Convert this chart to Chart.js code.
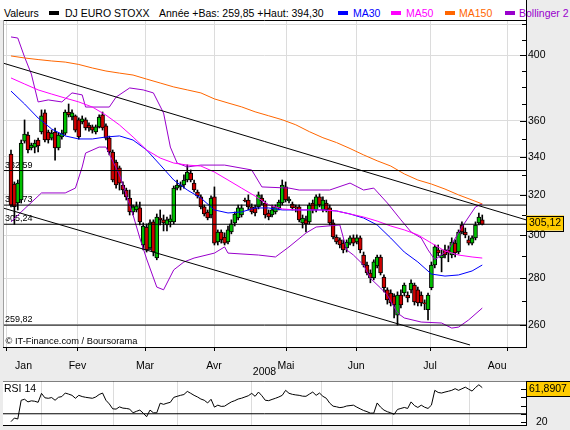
<!DOCTYPE html>
<html>
<head>
<meta charset="utf-8">
<script src="https://cdn.jsdelivr.net/npm/chart.js@4"></script>
<style>
  body { margin: 0; width: 570px; height: 430px; overflow: hidden; position: relative; background: #ececec; font-family: "Liberation Sans", Arial, sans-serif; }
  #legend { position: absolute; left: 0; top: 0; width: 526px; height: 20px; background: #fff; }
  #legend span { position: absolute; top: 7px; font-size: 10.5px; line-height: 12px; white-space: nowrap; color: #000; }
  #legend i { position: absolute; top: 11px; width: 10px; height: 4px; }
  canvas { position: absolute; left: 0; }
</style>
</head>
<body>
<div id="legend">
  <span style="left:4px">Valeurs</span>
  <i style="left:49px;background:#000"></i><span style="left:65px">DJ EURO STOXX</span>
  <span style="left:159px">Année +Bas: 259,85 +Haut: 394,30</span>
  <i style="left:338px;background:#0000ff"></i><span style="left:353px;color:#0000ff">MA30</span>
  <i style="left:391px;background:#ff00ff"></i><span style="left:406px;color:#ff00ff">MA50</span>
  <i style="left:445px;background:#ff6600"></i><span style="left:459px;color:#ff6600">MA150</span>
  <i style="left:505px;background:#9900cc"></i><span style="left:519px;color:#9900cc">Bollinger 2</span>
</div>
<canvas id="mainChart" width="570" height="380" style="top:0"></canvas>
<canvas id="rsiChart" width="570" height="50" style="top:380px"></canvas>
<script>
// Daily candles, one per trading day starting 21 Jan 2008
const opens = [
  341.5, 325.5, 315.8, 317.3, 348.6, 352.0, 344.8, 345.3, 349.2, 353.7,
  364.7, 353.7, 350.3, 353.7, 344.8, 350.9, 353.1, 365.2, 362.3, 362.9,
  360.6, 359.4, 360.6, 357.7, 356.6, 353.7, 356.6, 363.5, 357.2, 350.3,
  342.6, 337.1, 334.0, 325.0, 322.4, 318.3, 311.3, 312.3, 313.3, 295.3,
  303.9, 293.9, 306.4, 289.3, 308.3, 307.4, 304.9, 306.4, 306.4, 323.4,
  324.0, 325.0, 327.6, 331.3, 326.0, 321.4, 318.9, 313.8, 311.3, 309.8,
  318.9, 296.7, 301.5, 299.1, 296.7, 301.5, 305.9, 308.3, 309.8, 317.3,
  317.3, 313.8, 313.3, 313.8, 318.3, 315.8, 310.8, 309.8, 311.3, 313.3,
  315.8, 324.0, 316.8, 315.3, 313.8, 313.8, 305.9, 307.4, 306.4, 315.8,
  312.3, 318.9, 312.3, 315.8, 313.3, 305.9, 299.1, 297.7, 296.2, 293.9,
  296.2, 298.7, 296.7, 298.7, 290.6, 286.0, 282.4, 280.2, 285.6, 289.7,
  280.6, 274.9, 273.5, 272.2, 264.0, 272.6, 273.5, 272.6, 274.9, 277.0,
  274.9, 272.6, 269.2, 266.3, 275.8, 286.0, 293.0, 289.3, 293.0, 293.0,
  290.6, 296.2, 292.0, 304.9, 301.5, 297.7, 296.2, 298.7, 305.9, 307.4
];
const highs = [
  343.7, 326.6, 327.6, 349.2, 360.6, 353.7, 347.5, 349.2, 350.3, 366.4,
  366.4, 354.8, 354.8, 356.0, 353.1, 354.8, 366.4, 369.9, 366.4, 363.5,
  361.8, 362.9, 361.8, 358.9, 357.7, 357.7, 363.5, 365.2, 358.3, 351.4,
  343.7, 338.2, 335.0, 326.6, 323.4, 322.4, 314.8, 316.3, 316.3, 305.9,
  305.4, 307.4, 307.4, 310.3, 312.3, 309.8, 308.8, 309.8, 324.5, 327.6,
  326.6, 330.3, 335.6, 332.9, 327.6, 322.4, 319.9, 314.8, 312.3, 319.4,
  324.0, 302.5, 302.5, 301.1, 304.4, 307.4, 311.3, 314.8, 314.8, 318.3,
  319.9, 315.3, 314.8, 321.4, 319.9, 316.8, 312.3, 314.8, 314.8, 317.3,
  327.6, 326.6, 318.9, 316.3, 314.8, 314.8, 309.8, 309.3, 315.8, 317.3,
  319.9, 320.4, 318.9, 317.3, 314.8, 307.4, 300.1, 298.7, 297.7, 297.7,
  299.6, 300.1, 300.1, 299.6, 292.0, 287.4, 283.8, 288.4, 290.6, 290.6,
  281.5, 275.8, 274.9, 273.1, 274.0, 274.9, 277.9, 274.0, 279.3, 277.9,
  276.1, 274.0, 270.5, 273.5, 287.4, 295.3, 295.3, 293.0, 295.3, 294.9,
  298.7, 297.7, 302.5, 306.4, 303.4, 299.6, 299.6, 306.4, 310.8, 309.8
];
const lows = [
  313.8, 305.2, 312.3, 315.8, 347.5, 342.1, 343.7, 342.1, 342.6, 352.6,
  348.1, 347.5, 349.2, 338.2, 343.7, 349.7, 352.0, 362.3, 360.6, 353.7,
  349.7, 358.3, 354.8, 354.2, 353.1, 352.6, 356.0, 354.8, 349.2, 341.0,
  326.6, 323.4, 322.4, 320.4, 317.3, 309.8, 309.8, 311.3, 304.9, 293.0,
  292.0, 293.0, 290.2, 288.4, 304.9, 302.0, 302.0, 303.9, 305.4, 322.4,
  322.4, 323.4, 326.6, 326.6, 321.4, 318.3, 312.8, 309.3, 307.4, 308.3,
  295.3, 295.3, 296.2, 295.3, 295.8, 300.6, 304.4, 307.4, 308.8, 316.3,
  312.3, 310.3, 309.3, 312.8, 314.8, 308.3, 307.4, 308.8, 310.3, 312.3,
  314.8, 316.3, 315.8, 312.3, 311.3, 306.4, 303.4, 301.5, 305.4, 310.8,
  311.3, 313.8, 311.3, 311.3, 304.9, 298.2, 295.8, 293.9, 291.6, 292.0,
  295.3, 294.9, 295.8, 291.6, 285.1, 281.5, 278.0, 279.3, 284.7, 281.5,
  274.0, 268.7, 267.9, 262.8, 259.85, 267.1, 272.2, 269.6, 273.5, 268.3,
  267.9, 267.9, 266.3, 262.0, 274.9, 284.7, 290.2, 282.9, 289.3, 287.5,
  289.3, 289.7, 291.1, 300.6, 298.7, 295.3, 295.3, 297.7, 304.9, 304.9
];
const closes = [
  314.7, 314.0, 326.0, 347.5, 352.6, 343.7, 346.4, 347.5, 345.9, 362.9,
  349.2, 349.2, 353.1, 344.8, 352.0, 353.1, 365.2, 363.5, 364.7, 354.8,
  350.9, 361.2, 356.0, 356.0, 354.8, 356.6, 362.3, 356.0, 350.3, 342.6,
  327.6, 325.0, 326.0, 322.4, 318.9, 311.3, 313.8, 314.3, 306.4, 304.4,
  293.0, 305.9, 292.0, 308.8, 307.4, 305.9, 307.4, 307.9, 323.4, 325.0,
  325.0, 327.6, 331.8, 327.6, 322.4, 319.4, 313.8, 310.3, 308.3, 318.3,
  296.2, 301.5, 297.7, 296.2, 302.5, 305.4, 310.3, 313.3, 313.3, 316.8,
  313.8, 311.3, 310.8, 319.9, 316.8, 309.8, 308.8, 312.3, 313.8, 316.3,
  325.0, 317.3, 317.8, 313.3, 313.3, 307.4, 308.3, 305.4, 314.8, 312.3,
  318.9, 314.8, 317.3, 312.3, 305.9, 299.1, 296.7, 295.3, 293.0, 296.7,
  298.7, 296.2, 298.7, 293.0, 286.0, 282.4, 280.2, 287.5, 289.7, 282.4,
  275.8, 270.5, 269.2, 268.3, 272.6, 268.3, 277.0, 271.4, 277.9, 269.6,
  269.2, 269.2, 268.8, 272.6, 286.0, 294.4, 291.6, 290.6, 290.6, 291.6,
  296.7, 291.6, 301.5, 301.5, 300.1, 296.2, 298.7, 304.9, 308.8, 305.12
];
const rsi14 = [
  20.4, 24.8, 23.6, 46.5, 47.7, 44.5, 45.8, 45.3, 44.0, 54.9,
  49.5, 48.9, 49.8, 46.5, 50.1, 51.0, 55.3, 54.0, 52.5, 48.9,
  52.5, 51.0, 50.1, 49.5, 48.9, 50.5, 53.5, 55.3, 46.5, 42.0,
  36.0, 35.7, 38.4, 36.9, 36.5, 35.7, 31.2, 33.0, 34.5, 30.8,
  26.4, 34.5, 31.2, 31.2, 42.9, 41.5, 42.9, 44.0, 50.0, 51.3,
  52.5, 53.5, 57.3, 55.0, 52.5, 50.5, 48.0, 46.5, 43.2, 47.7,
  38.1, 40.5, 39.0, 39.3, 42.0, 44.5, 46.0, 48.0, 49.0, 50.5,
  52.0, 54.9, 51.3, 56.5, 52.0, 46.5, 46.0, 47.5, 48.9, 50.5,
  52.5, 58.6, 55.0, 53.7, 53.0, 52.5, 51.5, 51.3, 54.0, 56.5,
  52.5, 55.3, 51.3, 48.9, 43.0, 39.3, 38.5, 37.5, 38.1, 39.5,
  40.0, 40.5, 38.1, 36.0, 34.0, 32.6, 30.8, 30.8, 43.2, 38.1,
  34.5, 32.5, 31.2, 29.3, 35.3, 36.5, 37.7, 36.5, 44.5, 40.0,
  37.7, 40.5, 38.0, 36.5, 40.5, 58.6, 56.0, 55.3, 56.5, 57.5,
  58.6, 60.6, 58.6, 60.5, 62.5, 60.0, 57.7, 62.0, 65.4, 61.8907
];

// Moving averages read every 4th session
const maDays = [0, 4, 8, 12, 16, 20, 24, 28, 32, 36, 40, 44, 48, 52, 56, 60, 64, 68, 72, 76,
  80, 84, 88, 92, 96, 100, 104, 108, 112, 116, 120, 124, 128, 132, 136, 139];
const ma30 = [377.6, 369.9, 361.7, 355.4, 351.5, 349.8, 349.8, 350.9, 351.5, 349.2,
  343.7, 335.6, 327.6, 322.4, 318.3, 312.3, 310.8, 311.3, 313.3, 313.3,
  312.3, 312.3, 312.3, 312.3, 311.8, 310.3, 308.3, 304.9, 298.6, 292.0,
  287.4, 281.9, 281.0, 281.5, 283.3, 286.0];
const ma50 = [385.6, 381.9, 378.3, 375.8, 373.4, 371.1, 368.1, 363.4, 357.7, 350.9,
  343.7, 339.3, 336.6, 335.5, 335.0, 331.8, 327.6, 323.4, 319.3, 314.8,
  312.8, 312.3, 312.3, 312.3, 311.8, 310.3, 308.8, 306.8, 304.4, 302.5,
  300.1, 296.2, 292.5, 290.6, 289.7, 289.2];
const ma150 = [399.4, 398.1, 397.1, 396.2, 395.5, 394.0, 391.8, 389.9, 388.6, 387.4,
  384.9, 382.5, 380.1, 378.3, 376.5, 372.9, 370.5, 368.2, 365.3, 363.0,
  360.7, 357.8, 353.9, 350.5, 347.8, 344.5, 341.0, 337.8, 335.0, 330.8,
  327.6, 325.5, 322.9, 319.9, 317.3, 315.3];

// Bollinger bands (turning points)
const bbUpDays = [0, 2, 4, 6, 8, 11, 15, 18, 21, 22, 29, 31, 35, 39, 42, 45, 47, 49, 52, 56,
  63, 71, 74, 82, 85, 94, 100, 104, 107, 111, 115, 118, 121, 123, 125, 129, 133, 137, 139];
const bbUp = [411.7, 411.0, 398.7, 388.0, 371.1, 372.3, 371.1, 376.5, 375.3, 368.1,
  368.1, 374.0, 379.5, 378.3, 376.5, 364.6, 345.3, 336.6, 334.5, 335.5,
  335.5, 332.9, 324.0, 323.4, 322.4, 322.4, 326.0, 322.4, 323.4, 315.8,
  307.4, 301.5, 298.6, 293.0, 288.4, 293.0, 303.9, 313.8, 315.3];
const bbLoDays = [0, 3, 9, 16, 19, 21, 22, 26, 28, 32, 36, 38, 40, 43, 45, 48, 51, 54, 60, 63,
  64, 73, 78, 82, 87, 90, 97, 99, 101, 104, 106, 109, 111, 114, 116, 121, 127, 130, 132, 135, 139];
const bbLo = [306.4, 311.3, 320.9, 320.9, 323.4, 334.5, 342.0, 345.3, 345.3, 330.3,
  309.8, 298.6, 288.8, 276.1, 274.9, 283.8, 287.4, 289.2, 291.5, 294.4,
  291.5, 290.6, 289.7, 294.4, 301.0, 303.9, 304.9, 293.0, 290.6, 286.0,
  280.0, 275.7, 272.6, 264.9, 262.8, 261.1, 260.7, 258.6, 259.0, 262.0, 267.0];

// Horizontal levels and the two trend lines
const levels = [332.59, 314.73, 305.24, 259.82];
const levelLabels = ['332,59', '314,73', '305,24', '259,82'];
const trendUpDays = [-2.4, 151.9];
const trendUp = [394.9, 307.4];
const trendLoDays = [-2.4, 135.4];
const trendLo = [313.3, 251.7];

// Axes
const xMin = -2.36, xMax = 151.9;
const monthStarts = [9.1, 30.1, 49.0, 70.8, 91.7, 112.4, 135.1];
const monthMid = [3.7, 19.6, 39.5, 59.9, 81.1, 101.8, 123.6, 143.4];
const monthLabels = ['Jan', 'Fev', 'Mar', 'Avr', 'Mai', 'Jun', 'Jul', 'Aou'];
const yTicks = [260, 270, 280, 290, 300, 310, 320, 330, 340, 350, 360, 370, 380, 390, 400, 410, 420];
const yLabelled = [260, 280, 300, 320, 340, 360, 400];
const yGrid = [260, 280, 300, 320, 340, 360, 400, 420];
const rsiTicks = [20, 30, 40, 50, 60];
const rsiLevels = [30, 70];

const GREEN = '#00c000';
const RED = '#d00000';
const FONT = '"Liberation Sans", Arial, sans-serif';

Chart.defaults.font.family = FONT;
Chart.defaults.font.size = 10.5;
Chart.defaults.color = '#000';

const days = closes.map((c, i) => i);
const pts = (xs, ys) => ys.map((y, k) => ({ x: xs[k], y: y }));
const flat = v => [{ x: xMin, y: v }, { x: xMax, y: v }];

function lineSet(label, data, color, order) {
  return { type: 'line', label, data, borderColor: color, borderWidth: 1, pointRadius: 0, fill: false, tension: 0, order };
}

function innerTicks(ctx, scale, values, lenFor) {
  ctx.strokeStyle = '#000';
  ctx.lineWidth = 1;
  values.forEach(v => {
    const py = Math.round(scale.getPixelForValue(v)) + 0.5;
    const len = lenFor(v);
    ctx.beginPath();
    ctx.moveTo(scale.left - len, py);
    ctx.lineTo(scale.left, py);
    ctx.stroke();
  });
}

function valueBox(ctx, x, yMid, w, text) {
  ctx.fillStyle = '#ffcc00';
  ctx.fillRect(x, yMid - 7.5, w, 15);
  ctx.strokeStyle = '#000';
  ctx.strokeRect(x + 0.5, Math.round(yMid - 7.5) + 0.5, w - 1, 15);
  ctx.fillStyle = '#000';
  ctx.font = '10.5px ' + FONT;
  ctx.textBaseline = 'middle';
  ctx.textAlign = 'left';
  ctx.fillText(text, x + 3, yMid + 0.5);
}

// ---------- main price chart ----------
const mainDeco = {
  id: 'mainDeco',
  beforeDraw(chart) {
    const { ctx, chartArea: a } = chart;
    ctx.save();
    ctx.fillStyle = '#fff';
    ctx.fillRect(a.left, a.top, a.right - a.left, a.bottom - a.top);
    ctx.restore();
  },
  beforeDatasetsDraw(chart) {
    const { ctx, chartArea: a, scales } = chart;
    ctx.save();
    ctx.fillStyle = '#000';
    ctx.textBaseline = 'alphabetic';
    ctx.font = '9px ' + FONT;
    levels.forEach((v, k) => {
      ctx.fillText(levelLabels[k], a.left + 2, Math.round(scales.y.getPixelForValue(v)) - 3.5);
    });
    ctx.font = '9.3px ' + FONT;
    ctx.fillText('\u00a9 IT-Finance.com / Boursorama', a.left + 2.5, a.bottom - 3);
    ctx.restore();
  },
  afterDraw(chart) {
    const { ctx, chartArea: a, scales } = chart;
    ctx.save();
    ctx.lineWidth = 1;
    ctx.strokeStyle = '#000';
    ctx.beginPath();
    ctx.moveTo(a.left, a.top + 0.5);
    ctx.lineTo(a.right, a.top + 0.5);
    ctx.moveTo(a.right + 0.5, 0);
    ctx.lineTo(a.right + 0.5, a.top);
    ctx.stroke();
    ctx.strokeStyle = '#a0a0a0';
    ctx.beginPath();
    ctx.moveTo(a.left + 0.5, a.top);
    ctx.lineTo(a.left + 0.5, a.bottom);
    ctx.stroke();
    innerTicks(ctx, scales.y, yTicks, v => (yLabelled.includes(v) ? 6 : 4));
    const last = closes[closes.length - 1];
    valueBox(ctx, a.right, scales.y.getPixelForValue(last) - 1.5, 38, last.toFixed(2).replace('.', ','));
    ctx.restore();
  }
};

new Chart(document.getElementById('mainChart'), {
  type: 'line',
  data: {
    datasets: [
      ...levels.map(v => lineSet('level', flat(v), '#000', 1)),
      lineSet('trend up', pts(trendUpDays, trendUp), '#000', 1),
      lineSet('trend down', pts(trendLoDays, trendLo), '#000', 1),
      lineSet('MA150', pts(maDays, ma150), '#ff6600', 3),
      lineSet('MA50', pts(maDays, ma50), '#ff00ff', 3),
      lineSet('MA30', pts(maDays, ma30), '#0000ff', 3),
      lineSet('Bollinger up', pts(bbUpDays, bbUp), '#9900cc', 3),
      lineSet('Bollinger down', pts(bbLoDays, bbLo), '#9900cc', 3),
      {
        type: 'bar', label: 'bodies',
        data: days.map(i => ({ x: i, y: [opens[i], closes[i]] })),
        backgroundColor: c => (closes[c.dataIndex] >= opens[c.dataIndex] ? GREEN : RED),
        borderColor: '#000', borderWidth: 1, borderSkipped: false,
        barThickness: 4, grouped: false, order: 8
      },
      {
        type: 'bar', label: 'wicks',
        data: days.map(i => ({ x: i, y: [lows[i], highs[i]] })),
        backgroundColor: '#000', borderWidth: 0, barThickness: 1, grouped: false, order: 9
      }
    ]
  },
  options: {
    responsive: false,
    devicePixelRatio: 1,
    animation: false,
    layout: { padding: { left: 3, top: 20, right: 0, bottom: 0 } },
    plugins: { legend: { display: false }, tooltip: { enabled: false } },
    scales: {
      x: {
        type: 'linear', min: xMin, max: xMax, offset: false,
        afterBuildTicks: s => { s.ticks = monthStarts.map(v => ({ value: v })); },
        afterFit: s => { s.height = 4; s.paddingLeft = 0; s.paddingRight = 0; },
        ticks: { display: false },
        grid: { color: '#dcdcdc', tickColor: '#000', tickLength: 4 },
        border: { color: '#000' }
      },
      xm: {
        type: 'linear', position: 'bottom', min: xMin, max: xMax, offset: false,
        afterBuildTicks: s => { s.ticks = monthMid.map(v => ({ value: v })); },
        afterFit: s => { s.height = 29; s.paddingLeft = 0; s.paddingRight = 0; },
        ticks: { autoSkip: false, maxRotation: 0, padding: 1, callback: (v, k) => monthLabels[k] },
        grid: { display: false },
        border: { display: false },
        title: { display: true, text: '2008', padding: { top: 0, bottom: 2 } }
      },
      y: {
        type: 'logarithmic', position: 'right', min: 250.9, max: 423, bounds: 'data',
        afterBuildTicks: s => { s.ticks = yTicks.map(v => ({ value: v })); },
        afterFit: s => { s.width = 44; s.paddingTop = 0; s.paddingBottom = 0; },
        ticks: { autoSkip: false, padding: 2, callback: v => (yLabelled.includes(v) ? String(v) : '') },
        grid: { drawTicks: false, color: c => (c.tick && yGrid.includes(c.tick.value) ? '#dcdcdc' : 'rgba(0,0,0,0)') },
        border: { color: '#000' }
      }
    }
  },
  plugins: [mainDeco]
});

// ---------- RSI panel ----------
const rsiDeco = {
  id: 'rsiDeco',
  beforeDraw(chart) {
    const { ctx, chartArea: a } = chart;
    ctx.save();
    ctx.fillStyle = '#fff';
    ctx.fillRect(a.left, a.top, a.right - a.left, a.bottom - a.top);
    ctx.restore();
  },
  afterDraw(chart) {
    const { ctx, chartArea: a, scales } = chart;
    ctx.save();
    ctx.fillStyle = '#000';
    ctx.font = '10.5px ' + FONT;
    ctx.textBaseline = 'alphabetic';
    ctx.fillText('RSI 14', a.left + 1, a.top + 11);
    innerTicks(ctx, scales.y, rsiTicks, () => 5);
    const last = rsi14[rsi14.length - 1];
    valueBox(ctx, a.right, scales.y.getPixelForValue(last) + 1, 46, last.toFixed(4).replace('.', ','));
    ctx.restore();
  }
};

new Chart(document.getElementById('rsiChart'), {
  type: 'line',
  data: {
    datasets: [
      ...rsiLevels.map(v => lineSet('level', flat(v), '#000', 1)),
      lineSet('RSI 14', pts(days, rsi14), '#000', 2)
    ]
  },
  options: {
    responsive: false,
    devicePixelRatio: 1,
    animation: false,
    layout: { padding: { left: 3, top: 1, right: 0, bottom: 5 } },
    plugins: { legend: { display: false }, tooltip: { enabled: false } },
    scales: {
      x: {
        type: 'linear', min: xMin, max: xMax, offset: false,
        afterBuildTicks: s => { s.ticks = monthStarts.map(v => ({ value: v })); },
        afterFit: s => { s.height = 0; s.paddingLeft = 0; s.paddingRight = 0; },
        ticks: { display: false },
        grid: { color: '#dcdcdc', drawTicks: false },
        border: { color: '#000' }
      },
      y: {
        type: 'linear', position: 'right', min: 16.3, max: 70,
        afterBuildTicks: s => { s.ticks = rsiTicks.map(v => ({ value: v })); },
        afterFit: s => { s.width = 44; s.paddingTop = 0; s.paddingBottom = 0; },
        ticks: { autoSkip: false, padding: 2, callback: v => (v === 20 ? '20' : '') },
        grid: { display: false },
        border: { color: '#000' }
      }
    }
  },
  plugins: [rsiDeco]
});
</script>
</body>
</html>
